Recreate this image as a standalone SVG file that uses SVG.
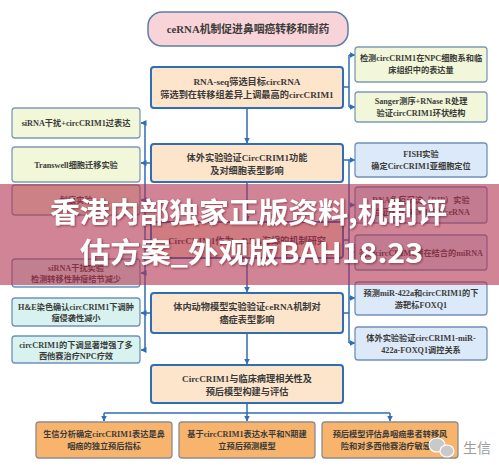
<svg xmlns="http://www.w3.org/2000/svg" width="499" height="470" viewBox="0 0 499 470">
<style>
.t{font-family:"Liberation Serif","Noto Sans CJK SC",serif;font-weight:bold;fill:#3b3b3b;text-anchor:middle;font-size:8.2px}
.tm{font-size:9.2px}
.tt{font-size:10.8px}
.main{fill:#fde5cc;stroke:#2f6db5;stroke-width:2}
.yg{fill:#f1f7d8;stroke:#7f9ab8;stroke-width:1.3}
.bl{fill:#dce9f8;stroke:#6f91ba;stroke-width:1.3}
.mt{fill:#d8f3ef;stroke:#6f91ba;stroke-width:1.3}
.or{fill:#f8b46c;stroke:#8c8c8c;stroke-width:1.3}
.c{fill:none;stroke:#2f6db5;stroke-width:1.5}
.ov{font-family:"Noto Sans CJK SC","Noto Sans",sans-serif;font-weight:bold;fill:#ffffff;text-anchor:middle;font-size:28px}
</style>
<defs>
<marker id="ar" markerWidth="6" markerHeight="6" refX="5.5" refY="3" orient="auto" markerUnits="userSpaceOnUse"><path d="M0,0 L6,3 L0,6 z" fill="#2f6db5"/></marker>
<filter id="sh" x="-10%" y="-20%" width="120%" height="140%"><feDropShadow dx="1" dy="1" stdDeviation="1" flood-color="#5a1020" flood-opacity="0.6"/></filter>
</defs>
<rect width="499" height="470" fill="#ffffff"/>

<g id="connectors">
<path class="c" d="M247,108 V143" marker-end="url(#ar)"/>
<path class="c" d="M247,182 V221" marker-end="url(#ar)"/>
<path class="c" d="M247,258 V292" marker-end="url(#ar)"/>
<path class="c" d="M247,333 V364" marker-end="url(#ar)"/>
<path class="c" d="M145,123 V350"/>
<path class="c" d="M145,123 H141" marker-end="url(#ar)"/>
<path class="c" d="M151,163 H141" marker-end="url(#ar)"/>
<path class="c" d="M145,200 H141" marker-end="url(#ar)"/>
<path class="c" d="M151,240 H145"/>
<path class="c" d="M145,273 H141" marker-end="url(#ar)"/>
<path class="c" d="M151,313 H141" marker-end="url(#ar)"/>
<path class="c" d="M145,350 H141" marker-end="url(#ar)"/>
<path class="c" d="M349,55 V107"/>
<path class="c" d="M343,87 H349"/>
<path class="c" d="M349,55 H355" marker-end="url(#ar)"/>
<path class="c" d="M349,107 H355" marker-end="url(#ar)"/>
<path class="c" d="M349,160 V343"/>
<path class="c" d="M343,160 H355" marker-end="url(#ar)"/>
<path class="c" d="M349,205 H355" marker-end="url(#ar)"/>
<path class="c" d="M343,240 H349"/>
<path class="c" d="M349,252 H355" marker-end="url(#ar)"/>
<path class="c" d="M349,298 H355" marker-end="url(#ar)"/>
<path class="c" d="M343,313 H349"/>
<path class="c" d="M349,343 H355" marker-end="url(#ar)"/>
<path class="c" d="M247,403 V413 M104,413 H390"/>
<path class="c" d="M104,413 V421" marker-end="url(#ar)"/>
<path class="c" d="M247,413 V421" marker-end="url(#ar)"/>
<path class="c" d="M390,413 V421" marker-end="url(#ar)"/>
</g>

<g id="title"><rect x="148" y="12" width="200" height="34" rx="14" fill="#f8d4d8" stroke="#5c7ea8" stroke-width="1.5"/><text class="t tt" x="248" y="33">ceRNA机制促进鼻咽癌转移和耐药</text></g>

<g id="m1"><rect class="main" x="151" y="67" width="192" height="41" rx="3"/><text class="t tm" x="247" y="85">RNA-seq筛选目标circRNA</text><text class="t tm" x="247" y="98">筛选到在转移组差异上调最高的circCRIM1</text></g>
<g id="m2"><rect class="main" x="151" y="144" width="192" height="38" rx="3"/><text class="t tm" x="247" y="161">体外实验验证CircCRIM1功能</text><text class="t tm" x="247" y="174">及对细胞表型影响</text></g>
<g id="m3"><rect class="main" x="151" y="222" width="192" height="36" rx="3"/><text class="t tm" x="247" y="243.5">CircCRIM1作为ceRNA海绵的机制研究</text></g>
<g id="m4"><rect class="main" x="151" y="293" width="192" height="40" rx="3"/><text class="t tm" x="247" y="310">体内动物模型实验验证ceRNA机制对</text><text class="t tm" x="247" y="323">癌症表型影响</text></g>
<g id="m5"><rect class="main" x="151" y="365" width="192" height="38" rx="3"/><text class="t tm" x="247" y="382">CircCRIM1与临床病理相关性及</text><text class="t tm" x="247" y="395">预后模型构建与评估</text></g>

<g id="l1"><rect class="yg" x="12" y="108" width="128" height="30" rx="3"/><text class="t" x="76" y="126">siRNA干扰+circCRIM1过表达</text></g>
<g id="l2"><rect class="yg" x="12" y="147" width="128" height="35" rx="3"/><text class="t" x="76" y="167.5">Transwell细胞迁移实验</text></g>
<g id="l3"><rect class="yg" x="12" y="185" width="128" height="30" rx="3"/><text class="t" x="76" y="203">划痕实验</text></g>
<g id="l4"><rect class="mt" x="12" y="259" width="128" height="28" rx="3"/><text class="t" x="76" y="271">siRNA干扰实验</text><text class="t" x="76" y="282">检测转移性肿瘤结节减少</text></g>
<g id="l5"><rect class="mt" x="12" y="298" width="128" height="28" rx="3"/><text class="t" x="76" y="310">H&amp;E染色确认circCRIM1下调肿</text><text class="t" x="76" y="321">瘤侵袭性减小</text></g>
<g id="l6"><rect class="mt" x="12" y="336" width="128" height="27" rx="3"/><text class="t" x="76" y="348">circCRIM1的下调显著增强了多</text><text class="t" x="76" y="359">西他赛治疗NPC疗效</text></g>

<g id="r1"><rect class="yg" x="355" y="47" width="132" height="35" rx="3"/><text class="t" x="421" y="61">检测circCRIM1在NPC细胞系和临</text><text class="t" x="421" y="73">床组织中的表达量</text></g>
<g id="r2"><rect class="yg" x="355" y="92" width="132" height="30" rx="3"/><text class="t" x="421" y="104">Sanger测序+RNase R处理</text><text class="t" x="421" y="116">验证circCRIM1环状结构</text></g>
<g id="r3"><rect class="bl" x="355" y="143" width="132" height="34" rx="3"/><text class="t" x="421" y="157">FISH实验</text><text class="t" x="421" y="169">确定CircCRIM1亚细胞定位</text></g>
<g id="r4"><rect class="bl" x="355" y="187" width="132" height="36" rx="3"/><text class="t" x="421" y="203">RNA免疫沉淀（RIP）实验</text><text class="t" x="421" y="215">验证circCRIM1作为ceRNA</text></g>
<g id="r5"><rect class="bl" x="355" y="235" width="132" height="35" rx="3"/><text class="t" x="421" y="255.5">筛选circCRIM1潜在结合的miRNA</text></g>
<g id="r6"><rect class="bl" x="355" y="282" width="132" height="33" rx="3"/><text class="t" x="421" y="296">预测miR-422a和circCRIM1的下</text><text class="t" x="421" y="308">游靶标FOXQ1</text></g>
<g id="r7"><rect class="bl" x="355" y="327" width="132" height="33" rx="3"/><text class="t" x="421" y="341">体外实验验证circCRIM1-miR-</text><text class="t" x="421" y="353">422a-FOXQ1调控关系</text></g>

<g id="b1"><rect class="or" x="36" y="422" width="136" height="36" rx="3"/><text class="t" x="104" y="437">生信分析确定circCRIM1表达是鼻</text><text class="t" x="104" y="449">咽癌的独立预后指标</text></g>
<g id="b2"><rect class="or" x="179" y="422" width="136" height="36" rx="3"/><text class="t" x="247" y="437">基于circCRIM1表达水平和N期建</text><text class="t" x="247" y="449">立预后预测模型</text></g>
<g id="b3"><rect class="or" x="322" y="422" width="136" height="36" rx="3"/><text class="t" x="390" y="437">预后模型评估鼻咽癌患者转移风</text><text class="t" x="390" y="449">险和对多西他赛治疗敏感性</text></g>

<g id="logo">
<ellipse cx="437" cy="445" rx="8" ry="7" fill="#c9c9c9" stroke="#ffffff" stroke-width="1.2"/>
<ellipse cx="447" cy="451" rx="7" ry="6" fill="#c9c9c9" stroke="#ffffff" stroke-width="1.2"/>
<text x="463" y="453" style="font-family:'Noto Sans CJK SC',sans-serif;font-size:14px;fill:#9c9c9c">生信</text>
</g>

<g id="overlay">
<rect x="0" y="184" width="499" height="101" fill="#b3324f" opacity="0.6"/>
<text class="ov" x="248.5" y="223" textLength="397" lengthAdjust="spacingAndGlyphs" filter="url(#sh)">香港内部独家正版资料,机制评</text>
<text class="ov" x="251.5" y="263" textLength="343" lengthAdjust="spacingAndGlyphs" filter="url(#sh)">估方案_外观版BAH18.23</text>
</g>
</svg>
